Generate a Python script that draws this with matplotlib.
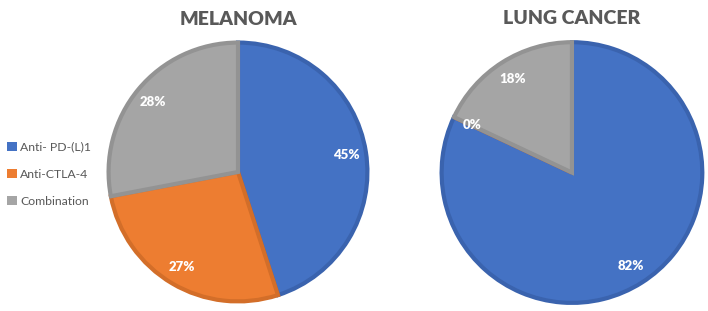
import matplotlib.pyplot as plt
from matplotlib.patches import Patch

plt.rcParams['font.family'] = ['Lato', 'DejaVu Sans']

categories = ['Anti- PD-(L)1', 'Anti-CTLA-4', 'Combination']
melanoma = [45, 27, 28]
lung = [82, 0, 18]
titles = ['MELANOMA', 'LUNG CANCER']

colors = ['#4472C4', '#ED7D31', '#A5A5A5']
edges = ['#3A63AE', '#D36E29', '#939393']

fig = plt.figure(figsize=(7.08, 3.11), dpi=100)

# axes boxes in figure fractions (square in pixels)
boxes = [(0.1497, 0.0225, 0.3729, 0.849), (0.620, 0.0177, 0.3757, 0.855)]

for box, vals, title in zip(boxes, [melanoma, lung], titles):
    ax = fig.add_axes(box)
    wedges, texts, autotexts = ax.pie(
        vals, colors=colors, startangle=90, counterclock=False,
        autopct=lambda p: f'{p:.0f}%', pctdistance=0.85,
        wedgeprops=dict(linewidth=3),
        textprops=dict(color='white', fontsize=9.5, fontweight='heavy'))
    for w, ec in zip(wedges, edges):
        w.set_edgecolor(ec)
    ax.set_xlim(-1.02, 1.02)
    ax.set_ylim(-1.02, 1.02)
    ax.set_aspect('equal')
    ax.set_title(title, fontsize=14, fontweight='heavy', color='#595959', pad=11)

handles = [Patch(facecolor=c, edgecolor='none') for c in colors]
fig.legend(handles, categories, loc='center left', bbox_to_anchor=(0.0, 0.44),
           frameon=False, handlelength=0.8, handleheight=0.8, handletextpad=0.25,
           labelspacing=1.3, fontsize=8.8, labelcolor='#595959', borderaxespad=0.2)

fig.savefig('out.png', dpi=100)
